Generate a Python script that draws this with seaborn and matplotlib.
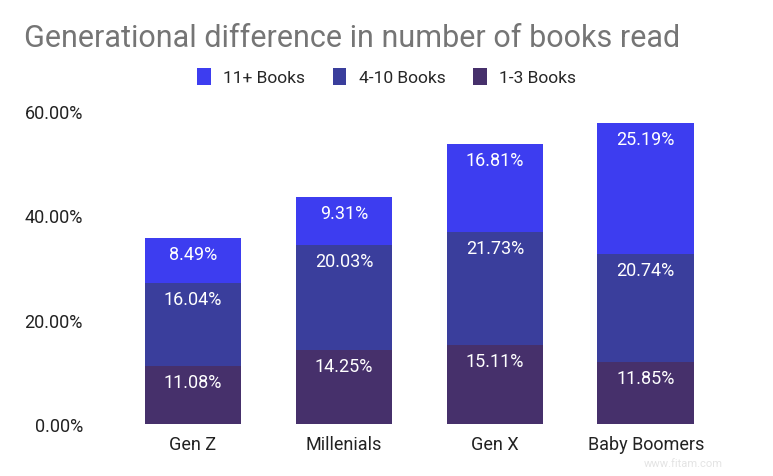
import numpy as np
import pandas as pd
import seaborn as sns
import matplotlib.pyplot as plt

generations = ['Gen Z', 'Millenials', 'Gen X', 'Baby Boomers']
books_1_3 = [11.08, 14.25, 15.11, 11.85]
books_4_10 = [16.04, 20.03, 21.73, 20.74]
books_11_plus = [8.49, 9.31, 16.81, 25.19]
series_names = ['11+ Books', '4-10 Books', '1-3 Books']
colors = ['#3d3df0', '#3a3e9c', '#46306b']

sns.set_theme(style='white')
plt.rcParams['font.family'] = ['Roboto', 'DejaVu Sans']

df = pd.DataFrame({'gen': generations, 'b13': books_1_3,
                   'b410': books_4_10, 'b11': books_11_plus})
df['top1'] = df['b13']
df['top2'] = df['b13'] + df['b410']
df['top3'] = df['top2'] + df['b11']

fig = plt.figure(figsize=(7.73, 4.77), dpi=100)
ax = fig.add_axes([0.152, 0.109, 0.781, 0.656])

# draw cumulative bars from tallest to shortest so they stack
for col, c, name in zip(['top3', 'top2', 'top1'], colors, series_names):
    sns.barplot(data=df, x='gen', y=col, color=c, width=0.64, ax=ax,
                label=name, saturation=1, linewidth=0)

# value labels near top of each segment
for i in range(len(generations)):
    for top, val in [(df['top1'][i], books_1_3[i]), (df['top2'][i], books_4_10[i]),
                     (df['top3'][i], books_11_plus[i])]:
        ax.annotate(f'{val:.2f}%', (i, top), xytext=(0, -5), textcoords='offset points',
                    ha='center', va='top', color='white', fontsize=13)

ax.set_ylim(0, 60)
ax.set_yticks([0, 20, 40, 60])
ax.set_yticklabels([f'{v:.2f}%' for v in [0, 20, 40, 60]])
ax.set_xlabel('')
ax.set_ylabel('')
ax.tick_params(axis='x', labelsize=13, colors='#222222', length=0, pad=8)
ax.tick_params(axis='y', labelsize=13, colors='#222222', length=0, pad=25)
for s in ax.spines.values():
    s.set_visible(False)

handles, labels = ax.get_legend_handles_labels()
ax.legend(handles, labels, loc='center', bbox_to_anchor=(0.5, 0.837),
          bbox_transform=fig.transFigure, ncol=3, frameon=False, fontsize=12.5,
          handlelength=0.8, handleheight=1.1, handletextpad=0.7, columnspacing=1.6)

fig.text(0.031, 0.92, 'Generational difference in number of books read',
         fontsize=22, color='#757575', va='center', ha='left')
fig.text(0.935, 0.022, 'www.fitam.com', fontsize=8, color='#e4e4e4', ha='right')

fig.savefig('out.png', dpi=100)
